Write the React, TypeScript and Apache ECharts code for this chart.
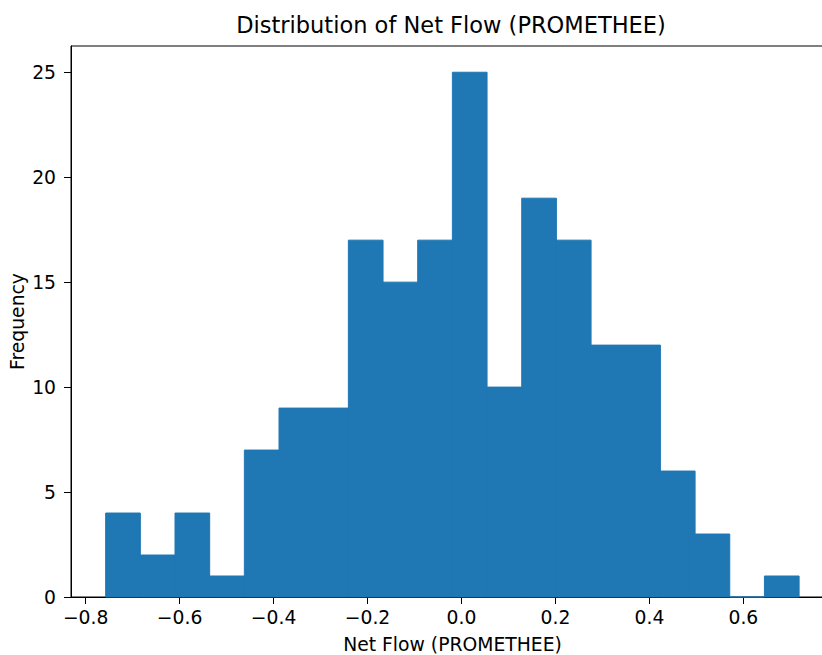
import React, { useEffect, useRef } from "react";
import * as echarts from "echarts";

// Histogram data (20 bins)
const counts: number[] = [4, 2, 4, 1, 7, 9, 9, 17, 15, 17, 25, 10, 19, 17, 12, 12, 6, 3, 0, 1];
const binStart = -0.7574;
const binWidth = 0.0738;
const xTicks: number[] = [-0.8, -0.6, -0.4, -0.2, 0.0, 0.2, 0.4, 0.6];
const yTicks: number[] = [0, 5, 10, 15, 20, 25];
const titleText = "Distribution of Net Flow (PROMETHEE)";
const xName = "Net Flow (PROMETHEE)";
const yName = "Frequency";

const FONT = "DejaVu Sans";
const FS = 18.75;

export default function App() {
  const ref = useRef<HTMLDivElement>(null);
  useEffect(() => {
    document.body.style.margin = "0";
    if (!ref.current) return;
    const chart = echarts.init(ref.current, undefined, { renderer: "svg" });
    const data = counts.map((c, i) => [binStart + i * binWidth, binStart + (i + 1) * binWidth, c]);
    const fmt = (v: number) => {
      const s = Math.abs(v).toFixed(1);
      return v < -1e-9 ? "\u2212" + s : s;
    };
    chart.setOption({
      animation: false,
      backgroundColor: "#fff",
      textStyle: { fontFamily: FONT },
      grid: {
        left: 71,
        top: 46,
        width: 763,
        height: 551,
        show: true,
        borderColor: "#000",
        borderWidth: 1,
        backgroundColor: "transparent",
        outerBoundsMode: "none",
        containLabel: false,
      },
      graphic: [
        {
          type: "text",
          x: 451,
          y: 25,
          style: {
            text: titleText,
            font: `22.5px "${FONT}"`,
            fill: "#000",
            textAlign: "center",
            textVerticalAlign: "middle",
          },
        },
      ],
      xAxis: {
        type: "value",
        min: -0.8312,
        max: 0.7929,
        splitLine: { show: false },
        axisLine: { show: true, onZero: false, lineStyle: { color: "#000", width: 1 } },
        axisTick: { show: true, customValues: xTicks, length: 7, lineStyle: { color: "#000", width: 1 } },
        axisLabel: {
          customValues: xTicks,
          formatter: fmt,
          fontSize: FS,
          fontFamily: FONT,
          color: "#000",
          margin: 11,
        },
        name: xName,
        nameLocation: "middle",
        nameGap: 38,
        nameMoveOverlap: false,
        nameTextStyle: { fontSize: FS, fontFamily: FONT, color: "#000", lineHeight: 19 },
      },
      yAxis: {
        type: "value",
        min: 0,
        max: 26.25,
        splitLine: { show: false },
        axisLine: { show: true, onZero: false, lineStyle: { color: "#000", width: 1 } },
        axisTick: { show: true, customValues: yTicks, length: 7, lineStyle: { color: "#000", width: 1 } },
        axisLabel: {
          customValues: yTicks,
          formatter: (v: number) => String(v),
          fontSize: FS,
          fontFamily: FONT,
          color: "#000",
          margin: 15,
        },
        name: yName,
        nameLocation: "middle",
        nameGap: 44,
        nameRotate: 90,
        nameMoveOverlap: false,
        nameTextStyle: { fontSize: FS, fontFamily: FONT, color: "#000", lineHeight: 19 },
      },
      series: [
        {
          type: "custom",
          data,
          encode: { x: [0, 1], y: 2 },
          clip: false,
          renderItem: (params: any, api: any) => {
            const x0 = api.value(0);
            const x1 = api.value(1);
            const c = api.value(2);
            const p0 = api.coord([x0, c]);
            const p1 = api.coord([x1, 0]);
            return {
              type: "rect",
              shape: { x: p0[0], y: p0[1], width: p1[0] - p0[0], height: p1[1] - p0[1] },
              style: { fill: "#1f77b4", stroke: "#1f77b4", lineWidth: 1 },
            };
          },
          z: 1,
        },
      ],
    });
    return () => chart.dispose();
  }, []);
  return (
    <div
      ref={ref}
      style={{ position: "fixed", left: 0, top: 0, width: 822, height: 655 }}
    />
  );
}
